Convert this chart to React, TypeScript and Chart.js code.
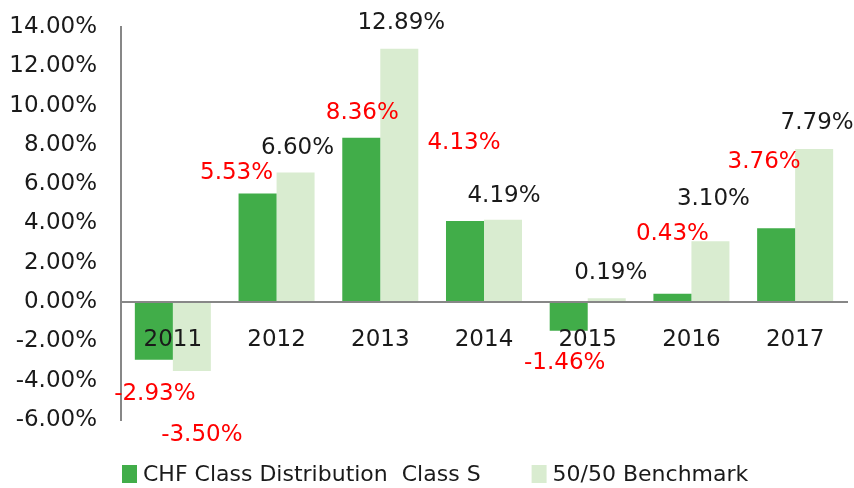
import React, { useEffect, useRef } from "react";
import { Chart, registerables } from "chart.js";

Chart.register(...registerables);

const categories = ["2011", "2012", "2013", "2014", "2015", "2016", "2017"];
const chfValues = [-2.93, 5.53, 8.36, 4.13, -1.46, 0.43, 3.76];
const benchValues = [-3.5, 6.6, 12.89, 4.19, 0.19, 3.1, 7.79];
const seriesNames = ["CHF Class Distribution  Class S", "50/50 Benchmark"];
const yMin = -6;
const yMax = 14;
const yStep = 2;

// label styling: offsets (px) from the end of each bar, and colours
const chfLabelDx = [1, -21, 1, -1, -4, 0, -12];
const chfLabelDy = [34, -20, -25, -78, 32, -60, -66];
const benchLabelDx = [10, 2, 2, 1, 4, 3, 3];
const benchLabelDy = [64, -24, -26, -24, -25, -42, -26];
const chfLabelColors = ["#FF0000", "#FF0000", "#FF0000", "#FF0000", "#FF0000", "#FF0000", "#FF0000"];
const benchLabelColors = ["#FF0000", "#1a1a1a", "#1a1a1a", "#1a1a1a", "#1a1a1a", "#1a1a1a", "#1a1a1a"];

const FONT = "'DejaVu Sans', sans-serif";
const GREEN = "#41AD49";
const LIGHT = "#D9ECD0";
const AXIS = "#878787";

const labelPlugin = {
  id: "barLabels",
  afterDraw(chart: any) {
    const ctx = chart.ctx;
    const dxs = [chfLabelDx, benchLabelDx];
    const dys = [chfLabelDy, benchLabelDy];
    const cols = [chfLabelColors, benchLabelColors];
    ctx.save();
    ctx.font = `23px ${FONT}`;
    ctx.textAlign = "center";
    ctx.textBaseline = "middle";
    chart.data.datasets.forEach((ds: any, i: number) => {
      const meta = chart.getDatasetMeta(i);
      meta.data.forEach((el: any, j: number) => {
        const v = ds.data[j];
        ctx.fillStyle = cols[i][j];
        ctx.fillText(v.toFixed(2) + "%", el.x + dxs[i][j], el.y + dys[i][j]);
      });
    });
    ctx.restore();
  },
};

const legendPlugin = {
  id: "customLegend",
  afterDraw(chart: any) {
    const ctx = chart.ctx;
    const area = chart.chartArea;
    ctx.save();
    ctx.font = `22px ${FONT}`;
    ctx.textBaseline = "middle";
    ctx.textAlign = "left";
    let x = area.left + 1;
    const yTop = area.bottom + 45;
    const boxW = 15;
    const boxH = 18;
    chart.data.datasets.forEach((ds: any) => {
      ctx.fillStyle = ds.backgroundColor;
      ctx.fillRect(x, yTop, boxW, boxH);
      ctx.fillStyle = "#1a1a1a";
      ctx.fillText(ds.label, x + boxW + 6, yTop + boxH / 2 + 1);
      x += boxW + 6 + ctx.measureText(ds.label).width + 51;
    });
    ctx.restore();
  },
};

export default function App() {
  const ref = useRef<HTMLCanvasElement>(null);
  useEffect(() => {
    if (!ref.current) return;
    const chart = new Chart(ref.current, {
      type: "bar",
      data: {
        labels: categories,
        datasets: [
          {
            label: seriesNames[0],
            data: chfValues,
            backgroundColor: GREEN,
            borderWidth: 0,
            categoryPercentage: 0.733,
            barPercentage: 1,
          },
          {
            label: seriesNames[1],
            data: benchValues,
            backgroundColor: LIGHT,
            borderWidth: 0,
            categoryPercentage: 0.733,
            barPercentage: 1,
          },
        ],
      },
      options: {
        animation: false,
        responsive: true,
        maintainAspectRatio: false,
        layout: { padding: { top: 27, right: 7, bottom: 68, left: 0 } },
        plugins: {
          legend: { display: false },
          tooltip: { enabled: false },
        },
        scales: {
          x: {
            position: { y: 0 } as any,
            grid: { display: false, drawTicks: false },
            border: { display: true, color: AXIS, width: 2, z: 1 } as any,
            ticks: {
              color: "#1a1a1a",
              font: { family: FONT, size: 23 },
              padding: 24,
              maxRotation: 0,
              autoSkip: false,
              z: 1,
            },
          },
          y: {
            min: yMin,
            max: yMax,
            grid: {
              display: true,
              drawOnChartArea: false,
              drawTicks: true,
              tickLength: 24,
              color: "rgba(0,0,0,0)",
              tickColor: "rgba(0,0,0,0)",
            },
            border: { display: true, color: AXIS, width: 2 },
            afterFit: (s: any) => {
              s.width = 121;
            },
            ticks: {
              stepSize: yStep,
              color: "#1a1a1a",
              font: { family: FONT, size: 23 },
              padding: 0,
              callback: (v: any) => Number(v).toFixed(2) + "%",
            },
          },
        },
      },
      plugins: [labelPlugin, legendPlugin],
    });
    return () => chart.destroy();
  }, []);
  return (
    <div style={{ position: "fixed", left: 0, top: 0, width: 854, height: 488, background: "#fff" }}>
      <canvas ref={ref} />
    </div>
  );
}
